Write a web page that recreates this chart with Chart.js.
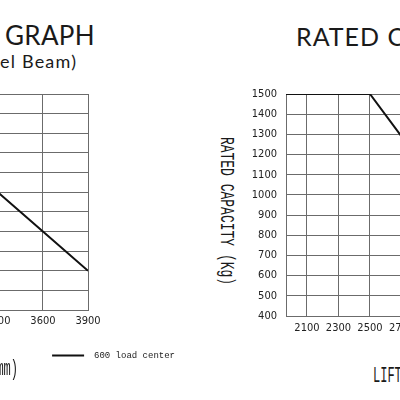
<!DOCTYPE html>
<html>
<head>
<meta charset="utf-8">
<script src="https://cdn.jsdelivr.net/npm/chart.js@4.4.1/dist/chart.umd.min.js"></script>
<style>
html,body{margin:0;padding:0;width:400px;height:400px;overflow:hidden;background:#fff;}
body{position:relative;}
.abs{position:absolute;white-space:nowrap;color:#1a1a1a;}
.title{font-family:Lato,'Open Sans',sans-serif;font-size:26px;line-height:26px;top:22px;}
.sub{font-family:Lato,'Open Sans',sans-serif;font-size:18px;line-height:18px;top:52px;letter-spacing:1.2px;}
.cad{font-family:'Liberation Mono','DejaVu Sans Mono',monospace;font-size:12px;line-height:12px;}
.wrap{position:absolute;top:0;}
</style>
</head>
<body>
<div class="abs title" style="left:5px;letter-spacing:0.3px;">GRAPH</div>
<div class="abs sub" style="left:0px;">el Beam)</div>
<div class="abs title" style="left:296px;font-size:25px;top:23px;letter-spacing:1px;">RATED C</div>

<div class="wrap" style="left:-260px;width:445px;height:370px;"><canvas id="leftChart"></canvas></div>
<div class="wrap" style="left:246px;width:313px;height:346px;"><canvas id="rightChart"></canvas></div>

<div class="abs cad" id="yTitle" style="left:226px;top:211px;font-size:13px;line-height:13px;transform:translate(-50%,-50%) rotate(90deg) scaleY(1.5);">RATED CAPACITY (Kg)</div>
<div class="abs cad" style="right:382px;top:364px;transform:scaleY(1.8);">LIFT HEIGHT (mm)</div>
<div class="abs cad" style="left:373px;top:371px;transform:scaleY(1.8);">LIFT HEIGHT (mm)</div>

<script>
// ---- data ----
const leftLiftHeights = [3300, 3600, 3900];
const leftCapacity = [1000, 800, 600];
const rightLiftHeights = [1967, 2500, 2700];
const rightCapacity = [1500, 1500, 1290];
const leftXTicks = [2100, 2400, 2700, 3000, 3300, 3600, 3900];
const rightXTicks = [2100, 2300, 2500, 2700, 2900, 3100, 3300, 3500];
const yTicks = [400, 500, 600, 700, 800, 900, 1000, 1100, 1200, 1300, 1400, 1500];
const seriesLabel = '600 load center';

const GRID = '#6b6b6b';
const TICKFONT = {family: "'Liberation Sans Narrow','DejaVu Sans Condensed','Liberation Sans',sans-serif", size: 11};

function pts(xs, ys){ return xs.map((x,i)=>({x:x, y:ys[i]})); }
const plain = v => String(v);

function yScale(width){
  return {
    type:'linear', position:'left', min:400, max:1500,
    afterBuildTicks: s => { s.ticks = yTicks.map(v=>({value:v})); },
    grid:{color:GRID, lineWidth:1, drawTicks:false},
    border:{color:GRID, width:1},
    ticks:{font:TICKFONT, color:'#222', padding:9, callback:plain},
    afterFit: s => { s.width = width; }
  };
}
function xScale(min, max, ticksArr, height, pad){
  return {
    type:'linear', position:'bottom', min:min, max:max,
    afterBuildTicks: s => { s.ticks = ticksArr.map(v=>({value:v})); },
    grid:{color:GRID, lineWidth:1, drawTicks:false},
    border:{color:GRID, width:1},
    ticks:{font:TICKFONT, color:'#222', padding:pad, maxRotation:0, autoSkip:false, callback:plain},
    afterFit: s => { s.height = height; }
  };
}

new Chart(document.getElementById('leftChart'), {
  type:'line',
  data:{datasets:[{
    label: seriesLabel,
    data: pts(leftLiftHeights, leftCapacity),
    borderColor:'#111', backgroundColor:'#111', borderWidth:2,
    pointRadius:0, tension:0, fill:false
  }]},
  options:{
    responsive:true, maintainAspectRatio:false, animation:false,
    layout:{padding:{top:94, left:0, right:0, bottom:0}},
    scales:{
      x: xScale(1850, 3900, leftXTicks, 31, 5),
      y: yScale(40),
      yR: {type:'linear', position:'right', display:true,
           grid:{display:false}, ticks:{display:false}, border:{display:false},
           afterFit: s => { s.width = 97; }}
    },
    plugins:{
      tooltip:{enabled:false},
      legend:{
        display:true, position:'bottom', align:'end',
        labels:{
          boxWidth:32, boxHeight:2, padding:10, color:'#222',
          font:{family:"'Liberation Mono','DejaVu Sans Mono',monospace", size:9},
          generateLabels: chart => {
            const items = Chart.defaults.plugins.legend.labels.generateLabels(chart);
            items.forEach(it => { it.lineWidth = 0; it.fillStyle = '#111'; it.text = ' ' + it.text; });
            return items;
          }
        }
      }
    }
  }
});

new Chart(document.getElementById('rightChart'), {
  type:'line',
  data:{datasets:[{
    label: seriesLabel,
    data: pts(rightLiftHeights, rightCapacity),
    borderColor:'#111', backgroundColor:'#111', borderWidth:2,
    pointRadius:0, tension:0, fill:false
  }]},
  options:{
    responsive:true, maintainAspectRatio:false, animation:false,
    layout:{padding:{top:94, left:0, right:0, bottom:0}},
    scales:{
      x: xScale(1967, 3700, rightXTicks, 30, 6),
      y: yScale(40)
    },
    plugins:{ tooltip:{enabled:false}, legend:{display:false} }
  }
});
</script>
</body>
</html>
